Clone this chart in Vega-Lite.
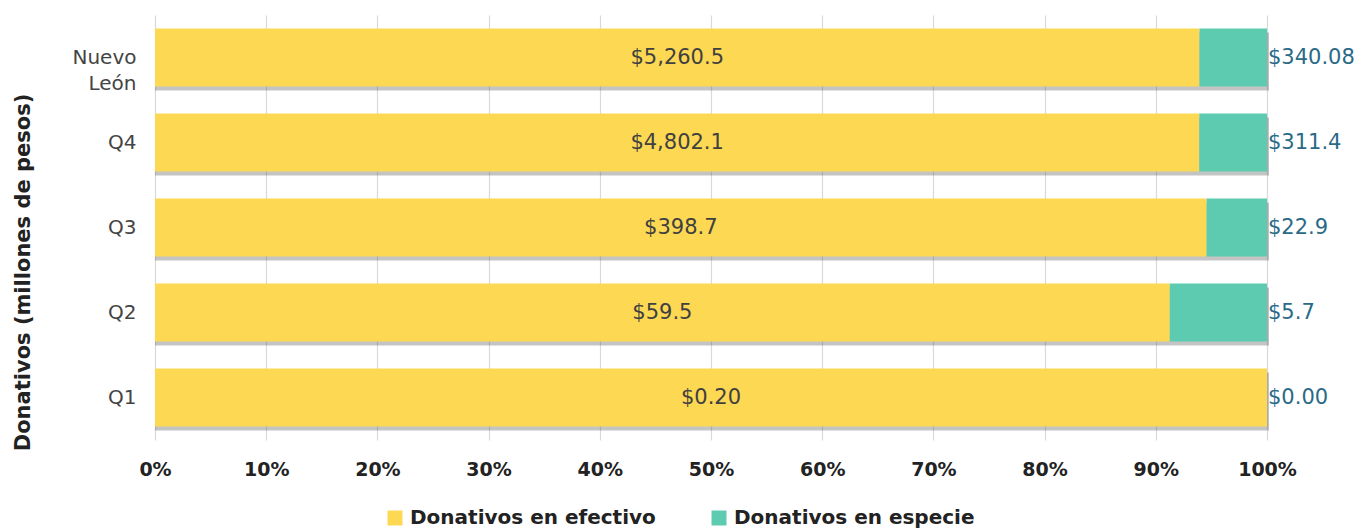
{
  "$schema": "https://vega.github.io/schema/vega-lite/v6.json",
  "width": 1112,
  "height": 425,
  "autosize": {"type": "none"},
  "padding": {"left": 155, "top": 15, "right": 90, "bottom": 91},
  "background": "white",
  "config": {
    "font": "DejaVu Sans",
    "view": {"stroke": null}
  },
  "data": {
    "values": [
      {"cat": "Nuevo León", "tipo": "Donativos en efectivo", "monto": 5260.5, "label": "$5,260.5"},
      {"cat": "Nuevo León", "tipo": "Donativos en especie", "monto": 340.08, "label": "$340.08"},
      {"cat": "Q4", "tipo": "Donativos en efectivo", "monto": 4802.1, "label": "$4,802.1"},
      {"cat": "Q4", "tipo": "Donativos en especie", "monto": 311.4, "label": "$311.4"},
      {"cat": "Q3", "tipo": "Donativos en efectivo", "monto": 398.7, "label": "$398.7"},
      {"cat": "Q3", "tipo": "Donativos en especie", "monto": 22.9, "label": "$22.9"},
      {"cat": "Q2", "tipo": "Donativos en efectivo", "monto": 59.5, "label": "$59.5"},
      {"cat": "Q2", "tipo": "Donativos en especie", "monto": 5.7, "label": "$5.7"},
      {"cat": "Q1", "tipo": "Donativos en efectivo", "monto": 0.2, "label": "$0.20"},
      {"cat": "Q1", "tipo": "Donativos en especie", "monto": 0.0, "label": "$0.00"}
    ]
  },
  "transform": [
    {"stack": "monto", "groupby": ["cat"], "as": ["x0", "x1"], "offset": "normalize", "sort": [{"field": "tipo", "order": "ascending"}]}
  ],
  "resolve": {"scale": {"x": "independent"}, "axis": {"x": "independent"}},
  "encoding": {
    "y": {
      "field": "cat",
      "type": "nominal",
      "sort": ["Nuevo León", "Q4", "Q3", "Q2", "Q1"],
      "scale": {"paddingInner": 0.32, "paddingOuter": 0.16},
      "title": "Donativos (millones de pesos)",
      "axis": {
        "domain": false,
        "ticks": false,
        "labelFontSize": 20,
        "labelColor": "#444444",
        "labelPadding": 19,
        "labelLineHeight": 26,
        "labelExpr": "datum.label == 'Nuevo León' ? ['Nuevo', 'León'] : datum.label",
        "titleFontSize": 21,
        "titleFontWeight": "bold",
        "titleColor": "#222222",
        "titlePadding": 38,
        "titleY": 257
      }
    }
  },
  "layer": [
    {
      "transform": [{"filter": "datum.tipo == 'Donativos en especie'"}],
      "mark": {"type": "bar", "color": "#555555", "opacity": 0.35, "yOffset": 4, "xOffset": 2},
      "encoding": {
        "x": {
          "field": "x1",
          "type": "quantitative",
          "scale": {"domain": [0, 1], "nice": false},
          "title": null,
          "axis": null
        },
        "x2": {"datum": 0}
      }
    },
    {
      "mark": {"type": "bar"},
      "encoding": {
        "x": {
          "field": "x0",
          "type": "quantitative",
          "scale": {"domain": [0, 1], "nice": false},
          "title": null,
          "axis": {
            "format": "%",
            "values": [0, 0.1, 0.2, 0.3, 0.4, 0.5, 0.6, 0.7, 0.8, 0.9, 1],
            "labelOverlap": false,
            "labelFlush": false,
            "domain": false,
            "ticks": false,
            "grid": true,
            "gridColor": "#d9d9d9",
            "gridWidth": 1.2,
            "labelFontSize": 19,
            "labelFontWeight": "bold",
            "labelColor": "#222222",
            "labelPadding": 20
          }
        },
        "x2": {"field": "x1"},
        "color": {
          "field": "tipo",
          "type": "nominal",
          "scale": {"domain": ["Donativos en efectivo", "Donativos en especie"], "range": ["#FCD853", "#5CCBB0"]},
          "legend": {
            "title": null,
            "orient": "none",
            "legendX": 230,
            "legendY": 493,
            "direction": "horizontal",
            "symbolType": "square",
            "symbolSize": 225,
            "symbolStrokeWidth": 0,
            "labelFontSize": 20,
            "labelFontWeight": "bold",
            "labelColor": "#222222",
            "labelLimit": 0,
            "columnPadding": 53,
            "labelOffset": 5
          }
        }
      }
    },
    {
      "transform": [{"filter": "datum.tipo == 'Donativos en efectivo'"}],
      "mark": {"type": "text", "fontSize": 21, "color": "#404040", "align": "center", "baseline": "middle"},
      "encoding": {
        "x": {"field": "x1", "type": "quantitative", "scale": {"domain": [0, 2], "nice": false}, "axis": null},
        "text": {"field": "label"}
      }
    },
    {
      "transform": [{"filter": "datum.tipo == 'Donativos en especie'"}],
      "mark": {"type": "text", "fontSize": 21, "color": "#2a6a86", "align": "left", "baseline": "middle", "dx": 1},
      "encoding": {
        "x": {"field": "x1", "type": "quantitative", "scale": {"domain": [0, 1], "nice": false}, "axis": null},
        "text": {"field": "label"}
      }
    }
  ]
}
